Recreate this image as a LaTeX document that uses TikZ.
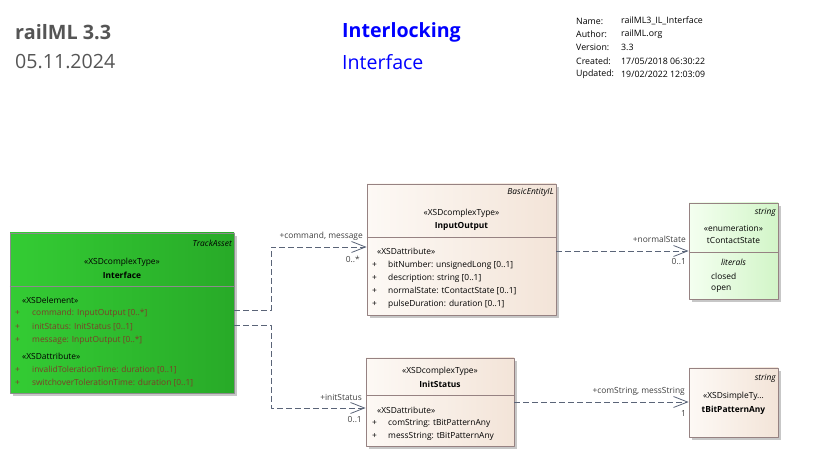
\documentclass[tikz,border=0pt]{standalone}
\usepackage{fontspec}
\setmainfont{Open Sans}
\usepackage{tikz}
\usetikzlibrary{arrows.meta,shadows}

\definecolor{edgegray}{RGB}{150,130,130}
\definecolor{linkgray}{RGB}{90,100,120}
\definecolor{attrred}{RGB}{125,62,40}
\definecolor{headgray}{RGB}{85,85,85}

\begin{document}
\begin{tikzpicture}[x=1pt,y=-1pt,join=round,
        box/.style={draw=edgegray,line width=.8pt,inner sep=0pt,
                drop shadow={shadow xshift=3pt,shadow yshift=-3pt,fill=black!22,opacity=1}},
        greenbox/.style={box,draw=black!45,left color={rgb,255:red,52;green,204;blue,52},
                right color={rgb,255:red,40;green,170;blue,40}},
        beigebox/.style={box,left color={rgb,255:red,253;green,249;blue,245},
                right color={rgb,255:red,243;green,228;blue,216}},
        litebox/.style={box,left color={rgb,255:red,244;green,255;blue,240},
                right color={rgb,255:red,210;green,245;blue,200}},
        txt/.style={font=\fontsize{8.4}{10}\selectfont,inner sep=0pt},
        attr/.style={txt,anchor=west},
        link/.style={draw=linkgray,line width=.8pt,dash pattern=on 6pt off 3pt,
                -{Straight Barb[length=14pt,width=11pt,line width=.8pt]}},
        role/.style={txt,anchor=east,text=black!75}]

        % header
        \node[anchor=west,inner sep=0pt,text=headgray,font=\fontsize{19.8}{22}\selectfont\bfseries] (model) at (15,32) {railML 3.3};
        \node[anchor=west,inner sep=0pt,text=headgray,font=\fontsize{19.6}{22}\selectfont] (date) at (15,62) {05.11.2024};
        \node[anchor=west,inner sep=0pt,text=blue,font=\fontsize{19.6}{22}\selectfont\bfseries] (pkg) at (342,32) {Interlocking};
        \node[anchor=west,inner sep=0pt,text=blue,font=\fontsize{19.6}{22}\selectfont] (diag) at (342,62) {Interface};
        \foreach \key/\val/\y in {{Name:}/{railML3\_IL\_Interface}/21,{Author:}/{railML.org}/34,
                {Version:}/{3.3}/47.5,{Created:}/{17/05/2018 06:30:22}/61,{Updated:}/{19/02/2022 12:03:09}/74}{
                \node[attr,font=\fontsize{8.8}{10}\selectfont] at (576,\y) {\key};
                \node[attr,font=\fontsize{8.8}{10}\selectfont] at (621,\y) {\val};
        }

        % Interface
        \node[greenbox,minimum width=224pt,minimum height=160pt] (iface) at (122,313) {};
        \draw[black!45,line width=.8pt] (iface.west |- 0,286) -- (iface.east |- 0,286);
        \node[txt,anchor=east,font=\fontsize{8.4}{10}\selectfont\itshape] at (232,243) {TrackAsset};
        \node[txt] at (122,262) {«XSDcomplexType»};
        \node[txt,font=\fontsize{8.4}{10}\selectfont\bfseries] at (122,275) {Interface};
        \node[attr] at (22,300) {«XSDelement»};
        \node[attr] at (22,356) {«XSDattribute»};
        \foreach \t/\y in {command: InputOutput [0..*]/313,initStatus: InitStatus [0..1]/327,
                message: InputOutput [0..*]/340,invalidTolerationTime: duration [0..1]/370,
                switchoverTolerationTime: duration [0..1]/383}{
                \node[attr,text=attrred] at (15,\y) {+};
                \node[attr,text=attrred] at (32,\y) {\t};
        }

        % InputOutput
        \node[beigebox,minimum width=189pt,minimum height=131pt] (io) at (461.5,249.5) {};
        \draw[edgegray,line width=.8pt] (io.west |- 0,237) -- (io.east |- 0,237);
        \node[txt,anchor=east,font=\fontsize{8.4}{10}\selectfont\itshape] at (554,192) {BasicEntityIL};
        \node[txt] at (461.5,213) {«XSDcomplexType»};
        \node[txt,font=\fontsize{8.4}{10}\selectfont\bfseries] at (461.5,226) {InputOutput};
        \node[attr] at (377,251) {«XSDattribute»};
        \foreach \t/\y in {bitNumber: unsignedLong [0..1]/265,description: string [0..1]/278,
                normalState: tContactState [0..1]/291,pulseDuration: duration [0..1]/304}{
                \node[attr] at (372,\y) {+};
                \node[attr] at (388,\y) {\t};
        }

        % tContactState
        \node[litebox,minimum width=89pt,minimum height=96pt] (state) at (733.5,251) {};
        \draw[edgegray,line width=.8pt] (state.west |- 0,252) -- (state.east |- 0,252);
        \node[txt,anchor=east,font=\fontsize{8.4}{10}\selectfont\itshape] at (776,212) {string};
        \node[txt] at (733.5,228) {«enumeration»};
        \node[txt] at (733.5,241) {tContactState};
        \node[txt,font=\fontsize{8.4}{10}\selectfont\itshape] at (733.5,262) {literals};
        \node[attr] at (711,276) {closed};
        \node[attr] at (711,289) {open};

        % InitStatus
        \node[beigebox,minimum width=148pt,minimum height=88pt] (init) at (440,402) {};
        \draw[edgegray,line width=.8pt] (init.west |- 0,395) -- (init.east |- 0,395);
        \node[txt] at (440,371) {«XSDcomplexType»};
        \node[txt,font=\fontsize{8.4}{10}\selectfont\bfseries] at (440,384) {InitStatus};
        \node[attr] at (377,410) {«XSDattribute»};
        \foreach \t/\y in {comString: tBitPatternAny/423,messString: tBitPatternAny/436}{
                \node[attr] at (372,\y) {+};
                \node[attr] at (388,\y) {\t};
        }

        % tBitPatternAny
        \node[beigebox,minimum width=89pt,minimum height=69pt] (bits) at (733.5,402.5) {};
        \node[txt,anchor=east,font=\fontsize{8.4}{10}\selectfont\itshape] at (776,378) {string};
        \node[txt] at (733.5,396) {«XSDsimpleTy...};
        \node[txt,font=\fontsize{8.4}{10}\selectfont\bfseries] at (733.5,410) {tBitPatternAny};

        % associations
        \draw[link] (iface.east |- 0,310) -- (271,310) |- (io.west |- 0,247);
        \node[role] at (363,236) {+command, message};
        \node[role] at (360,259) {0..*};
        \draw[link] (iface.east |- 0,325) -- (271,325) |- (init.west |- 0,408);
        \node[role] at (362,397) {+initStatus};
        \node[role] at (362,420) {0..1};
        \draw[link] (io.east |- 0,251) -- (state.west |- 0,251);
        \node[role] at (686,239) {+normalState};
        \node[role] at (686,262) {0..1};
        \draw[link] (init.east |- 0,402) -- (bits.west |- 0,402);
        \node[role] at (685,391) {+comString, messString};
        \node[role] at (686,414) {1};

        \useasboundingbox (0,0) rectangle (831,457);
\end{tikzpicture}
\end{document}
